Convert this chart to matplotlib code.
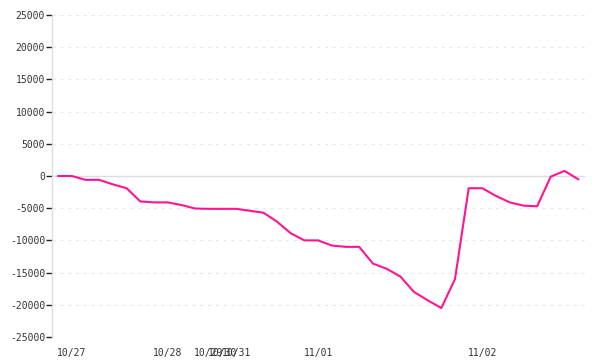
import matplotlib
matplotlib.use("Agg")
import matplotlib.pyplot as plt

# cumulative value per sample (index based x axis)
values = [0, 0, -600, -600, -1300, -1900, -3950, -4100, -4100, -4500,
          -5050, -5100, -5100, -5100, -5400, -5700, -7100, -8900, -10000, -10000,
          -10800, -11000, -11000, -13600, -14400, -15600, -18000, -19300, -20500, -16000,
          -1900, -1900, -3100, -4100, -4600, -4700, -100, 800, -500]
tick_idx = [1, 8, 11, 12, 13, 19, 31]
tick_labels = ['10/27', '10/28', '10/29', '10/30', '10/31', '11/01', '11/02']
yticks = [-25000, -20000, -15000, -10000, -5000, 0, 5000, 10000, 15000, 20000, 25000]

plt.rcParams['font.family'] = ['DejaVu Sans Mono']

fig = plt.figure(figsize=(6, 3.6), dpi=100)
ax = fig.add_axes([0.0867, 0.0639, 0.8883, 0.8944])

for y in yticks:
    if y == 0:
        ax.axhline(0, color='#dddddd', lw=1, zorder=1)
    else:
        ax.axhline(y, color='#e8e8e8', lw=0.8, ls=(0, (3, 4)), zorder=1)

ax.plot(range(len(values)), values, color='#ff1493', lw=1.5, zorder=3)

ax.set_xlim(-0.45, 38.5)
ax.set_ylim(-25000, 25000)
ax.set_yticks(yticks)
ax.set_yticklabels([str(v) for v in yticks], fontsize=7, color='#333333')
ax.set_xticks(tick_idx)
ax.set_xticklabels(tick_labels, fontsize=7, color='#333333')
ax.tick_params(axis='y', length=4, width=1, color='#222222', pad=1)
ax.tick_params(axis='x', length=0, pad=8)

for s in ['top', 'right', 'bottom']:
    ax.spines[s].set_visible(False)
ax.spines['left'].set_color('#dddddd')
ax.spines['left'].set_linewidth(1)

fig.savefig('out.png', dpi=100)
